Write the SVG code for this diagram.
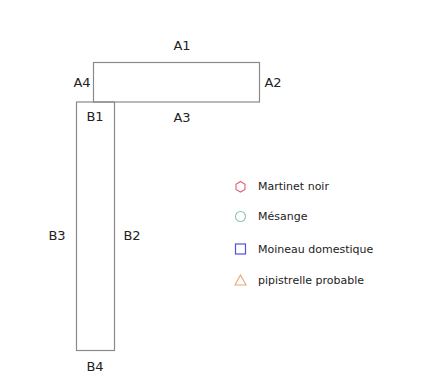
<svg xmlns="http://www.w3.org/2000/svg" width="441" height="382" viewBox="0 0 441 382">
<style>
.box{fill:none;stroke:#8a8a8a;stroke-width:1.2}
.lbl{font-family:"DejaVu Sans",sans-serif;font-size:13px;fill:#222;text-anchor:middle;dominant-baseline:central}
.leg{font-family:"DejaVu Sans",sans-serif;font-size:11px;fill:#222;dominant-baseline:central}
</style>
<rect width="441" height="382" fill="#fff"/>
<g id="A">
<rect class="box" x="93.5" y="62.5" width="166" height="39.5"/>
<text class="lbl" x="182" y="45">A1</text>
<text class="lbl" x="273" y="82">A2</text>
<text class="lbl" x="182" y="117">A3</text>
<text class="lbl" x="82" y="82">A4</text>
</g>
<g id="B">
<rect class="box" x="76.5" y="102" width="38" height="248.5"/>
<text class="lbl" x="95" y="116">B1</text>
<text class="lbl" x="132" y="235">B2</text>
<text class="lbl" x="57" y="235">B3</text>
<text class="lbl" x="95" y="366">B4</text>
</g>
<g id="legend">
<polygon points="240.5,181.5 245,184.2 245,189.4 240.5,192 236,189.4 236,184.2" fill="none" stroke="#e0607a" stroke-width="1.1"/>
<text class="leg" x="258" y="186.5">Martinet noir</text>
<circle cx="240.5" cy="216.5" r="5" fill="none" stroke="#8ec4b8" stroke-width="1.1"/>
<text class="leg" x="258" y="216.5">Mésange</text>
<rect x="235.5" y="244" width="10" height="10" fill="none" stroke="#5050e0" stroke-width="1.2"/>
<text class="leg" x="258" y="249">Moineau domestique</text>
<polygon points="240.5,275 246,285 235,285" fill="none" stroke="#e8a878" stroke-width="1.1"/>
<text class="leg" x="258" y="280.5">pipistrelle probable</text>
</g>
</svg>
